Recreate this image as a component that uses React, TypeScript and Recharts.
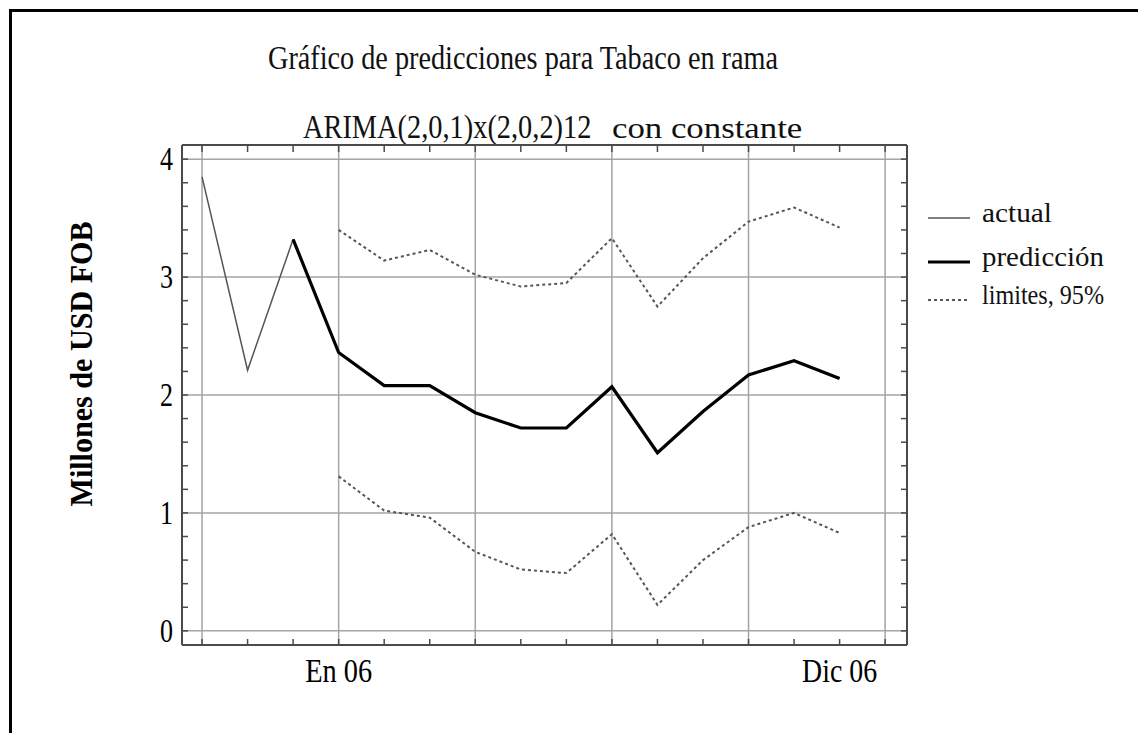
import React from "react";
import { LineChart, Line, XAxis, YAxis, ReferenceLine } from "recharts";

// month index: 0..2 = Oct-Dic 05, 3 = En 06 ... 14 = Dic 06
const months = [0, 1, 2, 3, 4, 5, 6, 7, 8, 9, 10, 11, 12, 13, 14];
const actual = [3.85, 2.21, 3.32, null, null, null, null, null, null, null, null, null, null, null, null];
const prediction = [null, null, 3.32, 2.36, 2.08, 2.08, 1.85, 1.72, 1.72, 2.07, 1.51, 1.86, 2.17, 2.29, 2.14];
const upper = [null, null, null, 3.4, 3.14, 3.23, 3.02, 2.92, 2.95, 3.33, 2.75, 3.16, 3.47, 3.59, 3.42];
const lower = [null, null, null, 1.31, 1.02, 0.96, 0.67, 0.52, 0.49, 0.82, 0.22, 0.6, 0.88, 1.0, 0.83];

const monthTicks = [0, 1, 2, 3, 4, 5, 6, 7, 8, 9, 10, 11, 12, 13, 14, 15];
const monthLabels: Record<number, string> = { 3: "En 06", 14: "Dic 06" };
const valueTicks = [0, 0.2, 0.4, 0.6, 0.8, 1, 1.2, 1.4, 1.6, 1.8, 2, 2.2, 2.4, 2.6, 2.8, 3, 3.2, 3.4, 3.6, 3.8, 4];
const gridX = [0, 3, 6, 9, 12, 15];
const gridY = [0, 1, 2, 3, 4];

const legendItems = ["actual", "predicción", "limites, 95%"];

const data = months.map((t, i) => ({
  t,
  actual: actual[i],
  prediction: prediction[i],
  upper: upper[i],
  lower: lower[i],
}));

const FONT = "'Liberation Serif', 'Times New Roman', serif";
const FRAME = "#4a4a4a";
const GRID = "#a4a4a4";
const X_DOMAIN: [number, number] = [-0.44, 15.48];
const Y_DOMAIN: [number, number] = [-0.12, 4.12];

const labelWidth: Record<string, number> = { "En 06": 67, "Dic 06": 75 };

const BottomTick = (props: any) => {
  const { x, y, payload } = props;
  const label = monthLabels[payload.value];
  return (
    <g>
      <line x1={x} x2={x} y1={y} y2={y - 6} stroke={FRAME} strokeWidth={1.5} />
      {label && (
        <text
          x={x}
          y={y + 37}
          textAnchor="middle"
          fontFamily={FONT}
          fontSize={33}
          fill="#000"
          textLength={labelWidth[label]}
          lengthAdjust="spacingAndGlyphs"
        >
          {label}
        </text>
      )}
    </g>
  );
};

const TopTick = (props: any) => {
  const { x, y } = props;
  return <line x1={x} x2={x} y1={y + 1} y2={y + 7} stroke={FRAME} strokeWidth={1.5} />;
};

const LeftTick = (props: any) => {
  const { x, y, payload } = props;
  const isMajor = Math.abs(payload.value - Math.round(payload.value)) < 1e-6;
  return (
    <g>
      <line x1={x} x2={x + 6} y1={y} y2={y} stroke={FRAME} strokeWidth={1.5} />
      {isMajor && (
        <text
          x={x - 9}
          y={y + 11}
          textAnchor="end"
          fontFamily={FONT}
          fontSize={33}
          fill="#000"
          textLength={13}
          lengthAdjust="spacingAndGlyphs"
        >
          {Math.round(payload.value)}
        </text>
      )}
    </g>
  );
};

const RightTick = (props: any) => {
  const { x, y } = props;
  return <line x1={x} x2={x - 6} y1={y} y2={y} stroke={FRAME} strokeWidth={1.5} />;
};

const legendStyles = [
  { stroke: "#555", width: 1.5, dash: undefined, y: 218, len: 70 },
  { stroke: "#000", width: 3, dash: undefined, y: 262, len: 122 },
  { stroke: "#555", width: 2, dash: "3 3", y: 300, len: 122 },
];

const Decorations = () => (
  <svg width={1138} height={733} style={{ position: "absolute", left: 0, top: 0 }}>
    <rect x={10.5} y={10.5} width={1300} height={900} fill="none" stroke="#000" strokeWidth={3} />
    <text x={268} y={69} fontFamily={FONT} fontSize={33} fill="#111" textLength={510} lengthAdjust="spacingAndGlyphs">
      Gráfico de predicciones para Tabaco en rama
    </text>
    <text transform="translate(303,138) scale(0.86,1)" fontFamily={FONT} fontSize={33} fill="#111">
      ARIMA(2,0,1)x(2,0,2)12
    </text>
    <text transform="translate(612,138) scale(1.2,1)" fontFamily={FONT} fontSize={29} fill="#111">
      con constante
    </text>
    <text
      transform="translate(92,364) rotate(-90)"
      textAnchor="middle"
      fontFamily={FONT}
      fontWeight="bold"
      fontSize={32}
      fill="#000"
      textLength={285}
      lengthAdjust="spacingAndGlyphs"
    >
      Millones de USD FOB
    </text>
    {legendItems.map((name, i) => {
      const s = legendStyles[i];
      return (
        <g key={name}>
          <line x1={928} x2={970} y1={s.y} y2={s.y} stroke={s.stroke} strokeWidth={s.width} strokeDasharray={s.dash} />
          <text
            x={982}
            y={s.y + 4}
            fontFamily={FONT}
            fontSize={28}
            fill="#111"
            textLength={s.len}
            lengthAdjust="spacingAndGlyphs"
          >
            {name}
          </text>
        </g>
      );
    })}
  </svg>
);

export default function App() {
  return (
    <div
      style={{
        position: "absolute",
        left: 0,
        top: 0,
        width: 1138,
        height: 733,
        overflow: "hidden",
        background: "#fff",
      }}
    >
      <Decorations />
      <div style={{ position: "absolute", left: 0, top: 0 }}>
        <LineChart
          width={1138}
          height={733}
          data={data}
          margin={{ top: 144, right: 230, left: 122, bottom: 28 }}
        >
          <XAxis
            xAxisId="b"
            dataKey="t"
            type="number"
            domain={X_DOMAIN}
            ticks={monthTicks}
            interval={0}
            height={60}
            tickSize={0}
            tickMargin={0}
            tickLine={false}
            axisLine={{ stroke: FRAME, strokeWidth: 2 }}
            tick={<BottomTick />}
          />
          <XAxis
            xAxisId="top"
            orientation="top"
            dataKey="t"
            type="number"
            domain={X_DOMAIN}
            ticks={monthTicks}
            interval={0}
            height={1}
            tickSize={0}
            tickMargin={0}
            tickLine={false}
            axisLine={{ stroke: FRAME, strokeWidth: 2 }}
            tick={<TopTick />}
          />
          <YAxis
            yAxisId="l"
            type="number"
            domain={Y_DOMAIN}
            ticks={valueTicks}
            interval={0}
            width={60}
            tickSize={0}
            tickMargin={0}
            tickLine={false}
            axisLine={{ stroke: FRAME, strokeWidth: 2 }}
            tick={<LeftTick />}
          />
          <YAxis
            yAxisId="r"
            orientation="right"
            type="number"
            domain={Y_DOMAIN}
            ticks={valueTicks}
            interval={0}
            width={1}
            tickSize={0}
            tickMargin={0}
            tickLine={false}
            axisLine={{ stroke: FRAME, strokeWidth: 2 }}
            tick={<RightTick />}
          />
          {gridY.map((v) => (
            <ReferenceLine key={"gy" + v} y={v} xAxisId="b" yAxisId="l" stroke={GRID} strokeWidth={1.5} />
          ))}
          {gridX.map((v) => (
            <ReferenceLine key={"gx" + v} x={v} xAxisId="b" yAxisId="l" stroke={GRID} strokeWidth={1.5} />
          ))}
          <Line
            xAxisId="b"
            yAxisId="l"
            dataKey="upper"
            name="limites, 95%"
            stroke="#555"
            strokeWidth={2}
            strokeDasharray="3 3"
            dot={false}
            activeDot={false}
            isAnimationActive={false}
          />
          <Line
            xAxisId="b"
            yAxisId="l"
            dataKey="lower"
            stroke="#555"
            strokeWidth={2}
            strokeDasharray="3 3"
            dot={false}
            activeDot={false}
            isAnimationActive={false}
          />
          <Line
            xAxisId="b"
            yAxisId="l"
            dataKey="actual"
            name="actual"
            stroke="#555"
            strokeWidth={1.5}
            dot={false}
            activeDot={false}
            isAnimationActive={false}
          />
          <Line
            xAxisId="b"
            yAxisId="l"
            dataKey="prediction"
            name="predicción"
            stroke="#000"
            strokeWidth={3.2}
            dot={false}
            activeDot={false}
            isAnimationActive={false}
          />
          <Line
            xAxisId="top"
            yAxisId="r"
            dataKey="upper"
            stroke="none"
            legendType="none"
            dot={false}
            activeDot={false}
            isAnimationActive={false}
          />
        </LineChart>
      </div>
    </div>
  );
}
